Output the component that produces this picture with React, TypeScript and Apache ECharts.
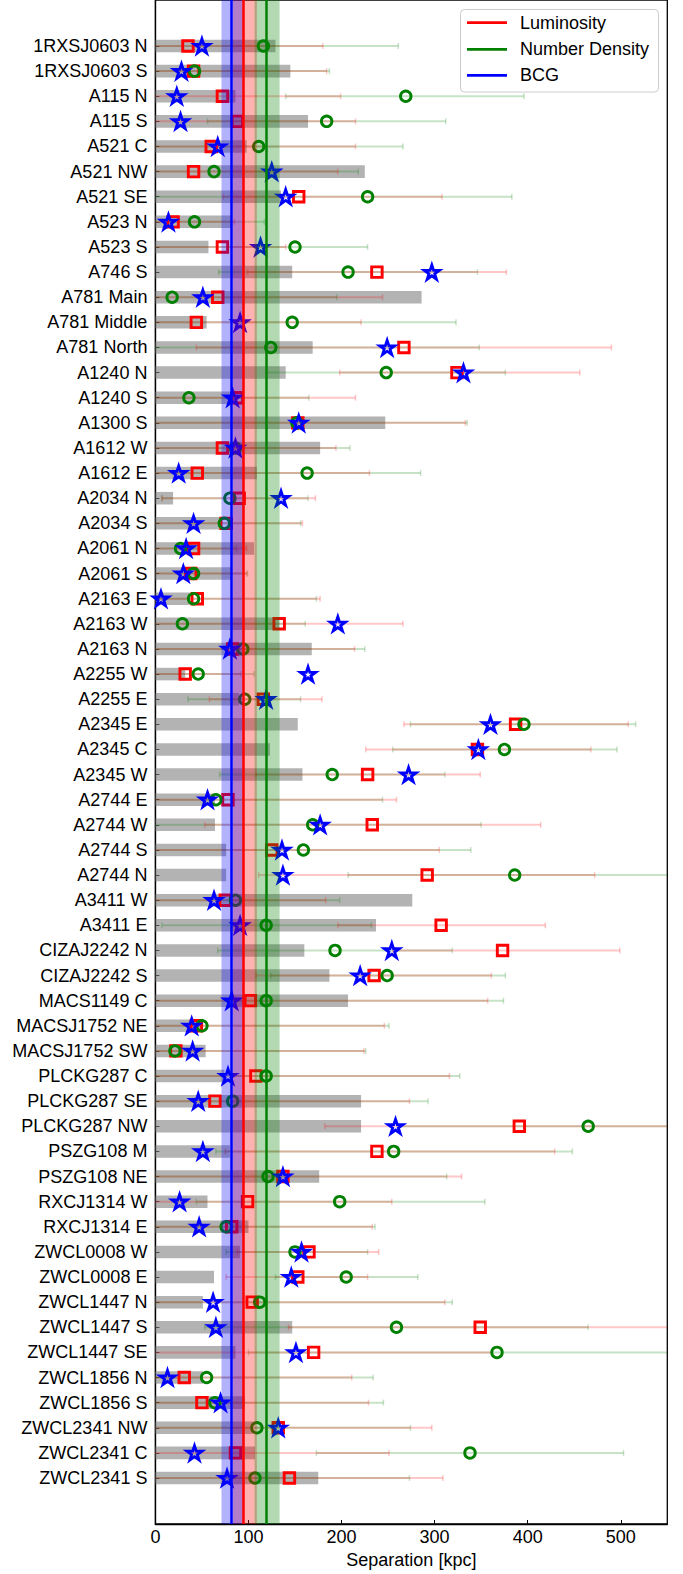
import React, { useEffect, useRef } from "react";
import * as echarts from "echarts";

const FONT = "'Liberation Sans', Arial, sans-serif";
const FS = 18;

const categories = [
  "1RXSJ0603 N", "1RXSJ0603 S", "A115 N", "A115 S", "A521 C", "A521 NW", "A521 SE",
  "A523 N", "A523 S", "A746 S", "A781 Main", "A781 Middle", "A781 North", "A1240 N",
  "A1240 S", "A1300 S", "A1612 W", "A1612 E", "A2034 N", "A2034 S", "A2061 N", "A2061 S",
  "A2163 E", "A2163 W", "A2163 N", "A2255 W", "A2255 E", "A2345 E", "A2345 C", "A2345 W",
  "A2744 E", "A2744 W", "A2744 S", "A2744 N", "A3411 W", "A3411 E", "CIZAJ2242 N",
  "CIZAJ2242 S", "MACS1149 C", "MACSJ1752 NE", "MACSJ1752 SW", "PLCKG287 C", "PLCKG287 SE",
  "PLCKG287 NW", "PSZG108 M", "PSZG108 NE", "RXCJ1314 W", "RXCJ1314 E", "ZWCL0008 W",
  "ZWCL0008 E", "ZWCL1447 N", "ZWCL1447 S", "ZWCL1447 SE", "ZWCL1856 N", "ZWCL1856 S",
  "ZWCL2341 NW", "ZWCL2341 C", "ZWCL2341 S",
];

const barValues = [
  129, 145, 86, 164, 98, 225, 135, 82, 57, 147, 286, 55, 169, 140, 85, 247, 177, 109, 19,
  72, 106, 82, 37, 133, 168, 32, 90, 153, 123, 158, 64, 64, 76, 76, 276, 237, 160, 187, 207,
  50, 54, 74, 221, 221, 80, 176, 56, 100, 91, 63, 51, 147, 86, 51, 96, 105, 107, 175,
];

const lumValues = [
  35, 41, 72, 88, 60, 41, 154, 19, 72, 238, 67, 44, 267, 324, 88, 153, 72, 45, 90, 76, 41,
  38, 45, 133, 83, 32, 116, 387, 346, 228, 78, 233, 125, 292, 75, 307, 373, 235, 102, 44,
  22, 108, 64, 391, 238, 137, 99, 82, 165, 153, 104, 349, 170, 31, 50, 132, 86, 144,
];
const lumLow = [
  0, 0, 0, 0, 0, 0, 73, 0, 0, 99, 0, 0, 44, 198, 0, 0, 0, 0, 7, 0, 0, 0, 0, 0, 0, 0, 58,
  267, 226, 108, 0, 53, 0, 111, 0, 196, 255, 108, 0, 0, 0, 0, 0, 182, 75, 0, 0, 0, 88, 76,
  0, 143, 0, 0, 0, 0, 0, 0,
];
const lumHigh = [
  180, 184, 199, 215, 215, 196, 308, 85, 140, 377, 244, 221, 490, 456, 215, 333, 194, 230,
  172, 158, 98, 98, 177, 266, 214, 92, 179, 508, 468, 349, 259, 414, 305, 472, 183, 419,
  499, 361, 357, 246, 224, 316, 273, 600, 429, 329, 254, 233, 240, 228, 311, 600, 362, 211,
  229, 297, 251, 309,
];

const ndValues = [
  116, 42, 269, 184, 111, 63, 228, 42, 150, 207, 18, 147, 124, 248, 36, 152, 86, 163, 80,
  74, 27, 41, 41, 29, 94, 46, 96, 396, 375, 190, 65, 169, 159, 386, 86, 119, 193, 249, 119,
  50, 21, 119, 83, 465, 256, 121, 198, 76, 150, 205, 112, 259, 367, 55, 64, 109, 338, 107,
];
const ndLow = [
  0, 0, 140, 56, 0, 0, 0, 0, 0, 68, 0, 0, 0, 119, 0, 0, 0, 0, 7, 0, 0, 0, 0, 0, 0, 0, 35,
  274, 255, 69, 0, 0, 0, 207, 0, 7, 67, 124, 0, 0, 0, 0, 0, 260, 65, 0, 44, 0, 76, 129, 0,
  53, 100, 0, 0, 0, 173, 0,
];
const ndHigh = [
  261, 187, 396, 312, 266, 218, 383, 117, 228, 346, 195, 323, 348, 376, 165, 335, 209, 285,
  164, 156, 87, 99, 173, 161, 225, 106, 156, 516, 496, 311, 244, 350, 339, 600, 198, 232,
  319, 376, 374, 251, 226, 327, 293, 600, 448, 313, 354, 236, 228, 282, 319, 465, 600, 234,
  245, 274, 503, 273,
];

const bcgValues = [
  50, 28, 23, 27, 67, 125, 140, 14, 113, 297, 51, 91, 249, 331, 83, 154, 86, 25, 135, 41,
  33, 30, 6, 196, 80, 164, 119, 360, 347, 272, 56, 177, 136, 137, 63, 91, 254, 220, 82, 39,
  40, 78, 46, 258, 51, 137, 26, 47, 157, 146, 62, 65, 151, 13, 70, 132, 42, 77,
];

const legendLabels = ["Luminosity", "Number Density", "BCG"];
const legendColors = ["#ff0000", "#008000", "#0000ff"];

const xTicks = [0, 100, 200, 300, 400, 500];
const X_MAX = 550;

const lumMedian = 94.5;
const lumBand = [83.4, 109];
const ndMedian = 119;
const ndBand = [106.6, 133.4];
const bcgMedian = 82;
const bcgBand = [71, 94];

const STAR =
  "path://M0,-10 L2.245,-3.09 L9.511,-3.09 L3.633,1.18 L5.878,8.09 L0,3.82 L-5.878,8.09 L-3.633,1.18 L-9.511,-3.09 L-2.245,-3.09 Z";

function errRender(color: string) {
  return (params: any, api: any) => {
    const lo = api.value(0);
    const hi = api.value(1);
    const idx = api.value(2);
    const a = api.coord([Math.max(lo, 0), idx]);
    const b = api.coord([Math.min(hi, X_MAX), idx]);
    const children: any[] = [
      { type: "line", shape: { x1: a[0], y1: a[1], x2: b[0], y2: b[1] }, style: { stroke: color, lineWidth: 2 } },
    ];
    if (lo > 0) {
      children.push({ type: "line", shape: { x1: a[0], y1: a[1] - 3, x2: a[0], y2: a[1] + 3 }, style: { stroke: color, lineWidth: 1.5 } });
    }
    if (hi < X_MAX) {
      children.push({ type: "line", shape: { x1: b[0], y1: b[1] - 3, x2: b[0], y2: b[1] + 3 }, style: { stroke: color, lineWidth: 1.5 } });
    }
    return { type: "group", children };
  };
}

function barRender(params: any, api: any) {
  const v = api.value(0);
  const idx = api.value(1);
  const p0 = api.coord([0, idx]);
  const p1 = api.coord([v, idx]);
  const h = Math.abs(api.size([0, 0.5])[1]);
  return {
    type: "rect",
    shape: { x: p0[0], y: p0[1] - h / 2, width: p1[0] - p0[0], height: h },
    style: { fill: "rgba(128,128,128,0.6)" },
  };
}

function markerSeries(name: string, values: number[], symbol: string, size: number, color: string, z: number, bw: number) {
  return {
    name,
    type: "scatter",
    silent: true,
    z,
    symbol,
    symbolSize: size,
    symbolKeepAspect: true,
    data: values.map((v, i) => [v, i]),
    itemStyle: { color: "rgba(0,0,0,0)", borderColor: color, borderWidth: bw, opacity: 1 },
  };
}

function refSeries(name: string, color: string, bandColor: string, median: number, band: number[]) {
  return {
    name,
    type: "line",
    silent: true,
    data: [],
    color,
    lineStyle: { color, width: 2.5 },
    itemStyle: { color },
    z: 9,
    markArea: {
      silent: true,
      z: 8,
      itemStyle: { color: bandColor },
      data: [[{ xAxis: band[0] }, { xAxis: band[1] }]],
    },
    markLine: {
      silent: true,
      z: 9,
      symbol: ["none", "none"],
      label: { show: false },
      lineStyle: { color, width: 2.5, type: "solid" },
      data: [{ xAxis: median }],
    },
  };
}

function legendGraphic() {
  const boxX = 460.5;
  const boxY = 9.5;
  const rowY = [22.7, 49.3, 75.3];
  const children: any[] = [
    {
      type: "rect",
      shape: { x: boxX, y: boxY, width: 198, height: 82.5, r: 4 },
      style: { fill: "rgba(255,255,255,0.85)", stroke: "#cccccc", lineWidth: 1 },
    },
  ];
  legendLabels.forEach((label, i) => {
    children.push({
      type: "line",
      shape: { x1: 467, y1: rowY[i], x2: 507, y2: rowY[i] },
      style: { stroke: legendColors[i], lineWidth: 2.7 },
    });
    children.push({
      type: "text",
      x: 520,
      y: rowY[i],
      style: { text: label, fontSize: FS, fontFamily: FONT, fill: "#000", verticalAlign: "middle", align: "left" },
    });
  });
  return { type: "group", z: 50, children };
}

export default function App() {
  const ref = useRef<HTMLDivElement>(null);

  useEffect(() => {
    if (!ref.current) return;
    const chart = echarts.init(ref.current, null, { renderer: "svg" });
    const idxs = categories.map((_, i) => i);
    const option: any = {
      animation: false,
      textStyle: { fontFamily: FONT },
      grid: {
        left: 155.4,
        right: 15.7,
        top: -1,
        bottom: 49,
        show: true,
        borderColor: "#000",
        borderWidth: 1.3,
        backgroundColor: "transparent",
      },
      graphic: [legendGraphic()],
      xAxis: {
        type: "value",
        min: 0,
        max: X_MAX,
        interval: 100,
        name: "Separation [kpc]",
        nameLocation: "middle",
        nameGap: 27,
        nameTextStyle: { color: "#000", fontSize: FS, fontFamily: FONT },
        axisLine: { show: true, onZero: false, lineStyle: { color: "#000", width: 1.3 } },
        axisTick: { show: true, inside: true, length: 4, customValues: xTicks, lineStyle: { color: "#000", width: 1 } },
        axisLabel: { customValues: xTicks, color: "#000", fontSize: FS, fontFamily: FONT, margin: 4 },
        splitLine: { show: false },
      },
      yAxis: {
        type: "value",
        inverse: true,
        min: -1.83,
        max: 58.83,
        axisLine: { show: true, onZero: false, lineStyle: { color: "#000", width: 1.3 } },
        axisTick: { show: true, inside: true, length: 4, customValues: idxs, lineStyle: { color: "#000", width: 1 } },
        axisLabel: {
          customValues: idxs,
          formatter: (v: number) => categories[Math.round(v)] ?? "",
          color: "#000",
          fontSize: FS,
          fontFamily: FONT,
          margin: 8,
        },
        splitLine: { show: false },
      },
      series: [
        {
          type: "custom",
          silent: true,
          z: 1,
          renderItem: barRender,
          encode: { x: 0, y: 1 },
          data: barValues.map((v, i) => [v, i]),
        },
        {
          type: "custom",
          silent: true,
          z: 2,
          clip: true,
          renderItem: errRender("rgba(0,128,0,0.22)"),
          encode: { x: [0, 1], y: 2 },
          data: ndLow.map((lo, i) => [lo, ndHigh[i], i]),
        },
        {
          type: "custom",
          silent: true,
          z: 2,
          clip: true,
          renderItem: errRender("rgba(255,0,0,0.22)"),
          encode: { x: [0, 1], y: 2 },
          data: lumLow.map((lo, i) => [lo, lumHigh[i], i]),
        },
        markerSeries("lumPts", lumValues, "rect", 10.5, "#ff0000", 3, 2.9),
        markerSeries("ndPts", ndValues, "circle", 10.5, "#008000", 4, 2.9),
        markerSeries("bcgPts", bcgValues, STAR, 15, "#0000ff", 5, 2.8),
        refSeries("Luminosity", "#ff0000", "rgba(255,0,0,0.3)", lumMedian, lumBand),
        refSeries("Number Density", "#008000", "rgba(0,128,0,0.3)", ndMedian, ndBand),
        refSeries("BCG", "#0000ff", "rgba(0,0,255,0.3)", bcgMedian, bcgBand),
      ],
    };
    chart.setOption(option);
    return () => chart.dispose();
  }, []);

  return (
    <div
      ref={ref}
      style={{ position: "absolute", left: 0, top: 0, width: 683, height: 1574, background: "#fff" }}
    />
  );
}
